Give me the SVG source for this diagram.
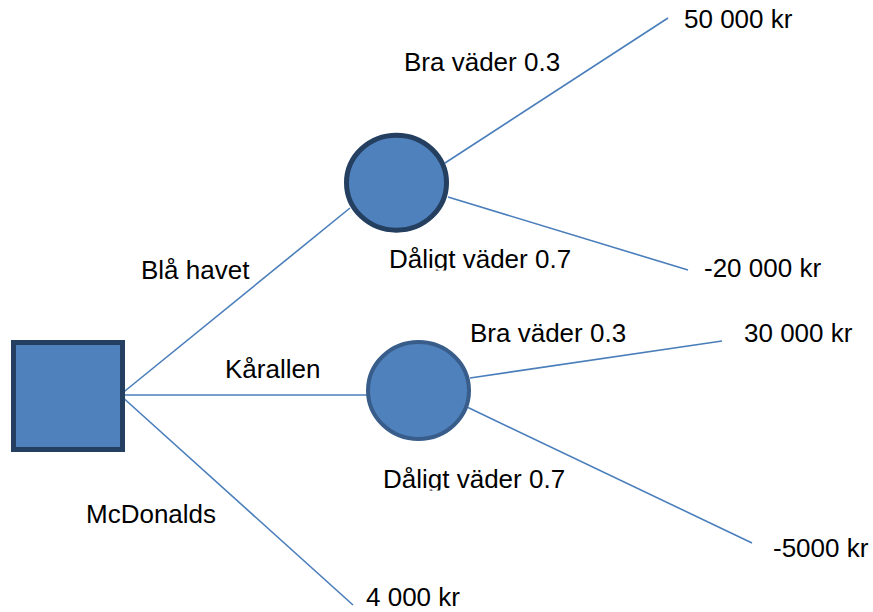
<svg xmlns="http://www.w3.org/2000/svg" width="873" height="612" viewBox="0 0 873 612">
<style>
.t{font-family:"Liberation Sans",Arial,sans-serif;font-size:26px;fill:#000}
.c{stroke:#4A7EBB;stroke-width:1.6;fill:none}
.n{fill:#4F81BD}
</style>
<defs>
<clipPath id="cl1"><rect x="380" y="230" width="220" height="40.5"/></clipPath>
<clipPath id="cl2"><rect x="375" y="450" width="220" height="40.5"/></clipPath>
</defs>
<rect width="873" height="612" fill="#fff"/>
<g id="connectors">
<line class="c" x1="120" y1="395" x2="350" y2="208"/>
<line class="c" x1="120" y1="395" x2="367" y2="395"/>
<line class="c" x1="120" y1="395" x2="353" y2="605"/>
<line class="c" x1="445" y1="163" x2="668" y2="18"/>
<line class="c" x1="448" y1="197" x2="688" y2="270"/>
<line class="c" x1="470" y1="378" x2="722" y2="341"/>
<line class="c" x1="467" y1="407" x2="752" y2="543"/>
</g>
<g id="decision">
<rect class="n" x="13.5" y="342.5" width="109" height="107" stroke="#243F60" stroke-width="5"/>
</g>
<g id="chance1">
<ellipse class="n" cx="396.5" cy="182.7" rx="50" ry="47.5" stroke="#243F60" stroke-width="5"/>
</g>
<g id="chance2">
<ellipse class="n" cx="418.5" cy="390.5" rx="50.5" ry="48.5" stroke="#385D8A" stroke-width="4"/>
</g>
<g id="labels">
<text class="t" x="684" y="28">50 000 kr</text>
<text class="t" x="404" y="71">Bra väder 0.3</text>
<text class="t" x="141" y="279">Blå havet</text>
<text class="t" x="389" y="268" clip-path="url(#cl1)">Dåligt väder 0.7</text>
<text class="t" x="704" y="277">-20 000 kr</text>
<text class="t" x="470" y="342">Bra väder 0.3</text>
<text class="t" x="744" y="342">30 000 kr</text>
<text class="t" x="225" y="378">Kårallen</text>
<text class="t" x="383" y="488" clip-path="url(#cl2)">Dåligt väder 0.7</text>
<text class="t" x="86" y="523">McDonalds</text>
<text class="t" x="773" y="557">-5000 kr</text>
<text class="t" x="366" y="606">4 000 kr</text>
</g>
</svg>
